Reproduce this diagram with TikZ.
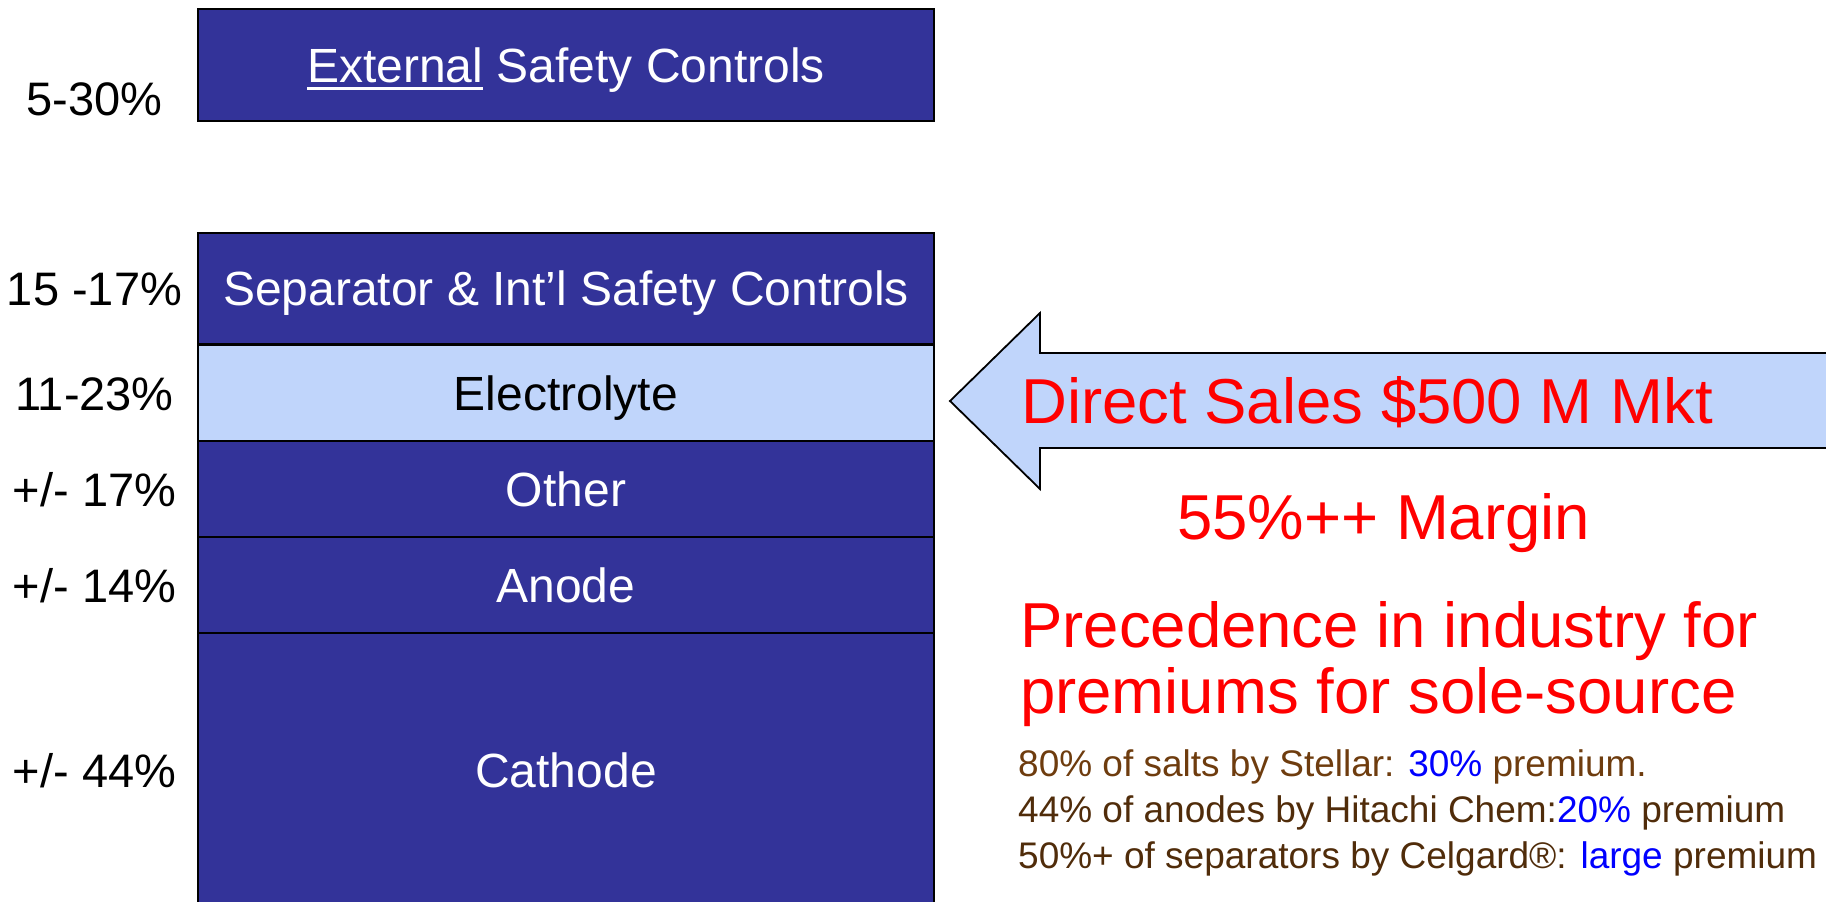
\documentclass[tikz,border=0pt]{standalone}
\usepackage{fontspec}
\setmainfont{Liberation Sans}
\definecolor{dkblue}{RGB}{51,51,153}
\definecolor{ltblue}{RGB}{192,213,251}
\definecolor{brownA}{RGB}{110,60,14}
\definecolor{brownB}{RGB}{80,44,10}
\definecolor{pureblue}{RGB}{0,0,255}
\definecolor{pured}{RGB}{255,0,0}
\newcommand\myul[1]{\setbox0\hbox{#1}\rlap{\rule[-7.5pt]{\wd0}{3pt}}\box0\relax}
\tikzset{
  layer/.style={draw=black, line width=2pt, fill=dkblue, text=white,
    minimum width=736pt, inner sep=0pt, text height=34.4pt, text depth=0pt,
    font=\fontsize{48}{58}\selectfont},
  pct/.style={anchor=base, inner sep=0pt, font=\fontsize{47}{56}\selectfont},
  bigred/.style={anchor=base west, inner sep=0pt, text=pured, font=\fontsize{63.5}{76}\selectfont},
  note/.style={anchor=base west, inner sep=0pt, font=\fontsize{37}{44}\selectfont}
}
\begin{document}
\begin{tikzpicture}[x=1pt,y=-1pt]
\useasboundingbox (0,0) rectangle (1826,902);
\clip (0,0) rectangle (1826,902);
% top box
\node[layer, minimum height=112pt] (ext) at (566,65) {\myul{External} Safety Controls};
% stack
\node[layer, minimum height=111pt] (sep) at (566,288.5) {Separator \& Int’l Safety Controls};
\node[layer, fill=ltblue, text=black, minimum height=96pt] (ele) at (566,393) {Electrolyte};
\node[layer, minimum height=96pt] (oth) at (566,489) {Other};
\node[layer, minimum height=96pt] (ano) at (566,585) {Anode};
\node[layer, minimum height=274pt] (cat) at (566,770) {Cathode};
% percentages
\node[pct] (p0) at (94.5,115) {5-30\%};
\node[pct] (p1) at (94.5,305.7) {15 -17\%};
\node[pct] (p2) at (94.5,410.2) {11-23\%};
\node[pct] (p3) at (94.5,506.2) {+/- 17\%};
\node[pct] (p4) at (94.5,602.2) {+/- 14\%};
\node[pct] (p5) at (94.5,787.2) {+/- 44\%};
% arrow
\draw[line width=1.8pt, fill=ltblue, line join=miter]
  (950,401) -- (1040,313) -- (1040,353) -- (1850,353) -- (1850,448)
  -- (1040,448) -- (1040,489) -- cycle;
\node[bigred] (ds) at (1021,423) {Direct Sales \$500 M Mkt};
\node[bigred] (mg) at (1177,539) {55\%++ Margin};
\node[bigred] (pr1) at (1020,647) {Precedence in industry for};
\node[bigred] (pr2) at (1020,713) {premiums for sole-source};
\node[note, text=brownA] (n1) at (1018,776) {80\% of salts by Stellar: \textcolor{pureblue}{30\%} premium.};
\node[note, text=brownB] (n2) at (1018,822) {44\% of anodes by Hitachi Chem:\textcolor{pureblue}{20\%} premium};
\node[note, text=brownB] (n3) at (1018,868) {50\%+ of separators by Celgard®: \textcolor{pureblue}{large} premium};
\end{tikzpicture}
\end{document}
